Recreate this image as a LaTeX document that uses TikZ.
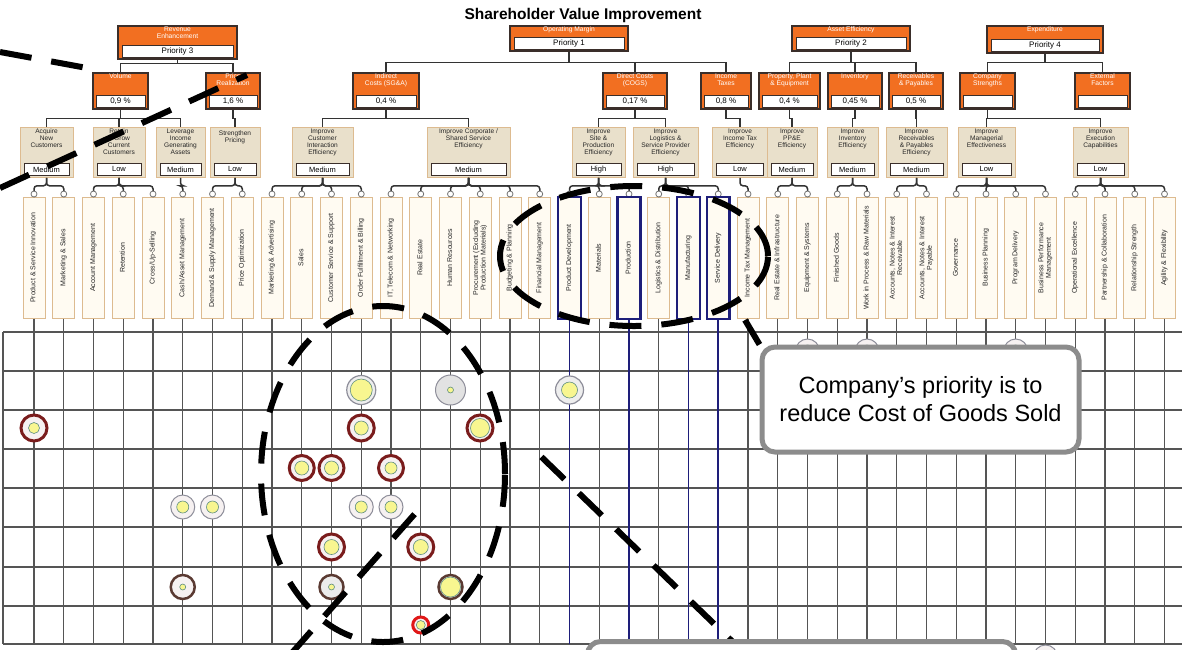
\documentclass[tikz,border=0pt]{standalone}
\usepackage{fontspec}
\setmainfont{Liberation Sans}
\usetikzlibrary{positioning}

\definecolor{drvorange}{HTML}{F26F21}
\definecolor{drvframe}{HTML}{3A2E2A}
\definecolor{drvtan}{HTML}{E9E0CB}
\definecolor{drvtanedge}{HTML}{DDBB90}
\definecolor{drvcream}{HTML}{FFFBF2}
\definecolor{drvnavy}{HTML}{1E1E7A}
\definecolor{gridgray}{HTML}{555555}
\definecolor{ringred}{HTML}{7A1C1C}
\definecolor{ringbrown}{HTML}{5A3A32}
\definecolor{ringgray}{HTML}{8E8E9A}
\definecolor{brightred}{HTML}{E01818}
\definecolor{dotyellow}{HTML}{F8F690}
\definecolor{dotedge}{HTML}{5E8E80}
\definecolor{lightfill}{HTML}{F6F1F1}
\definecolor{diskgray}{HTML}{E2E2E2}
\definecolor{calloutgray}{HTML}{8C8C8C}

\newcommand\drvfont[2]{\fontsize{#1}{#2}\selectfont}
\newcommand\leaftext[1]{\rotatebox{90}{\begin{tabular}{@{}c@{}}#1\end{tabular}}}
% marker: x, y, outer radius, ring colour, ring width, inside fill, yellow radius
\newcommand\drvdot[7]{%
  \filldraw[draw=#4, line width=#5, fill=#6] (#1,#2) circle (#3);
  \filldraw[draw=dotedge, line width=0.6pt, fill=dotyellow] (#1,#2) circle (#7);
}

\tikzset{
  hdr/.style={draw=drvframe, line width=1.6pt, fill=drvorange, inner sep=0pt, anchor=north},
  hdrtext/.style={anchor=north, text=white, align=center, inner sep=1.2pt, font=\drvfont{6.7}{7}},
  valbox/.style={draw=drvframe, line width=1pt, fill=white, inner sep=0pt, minimum height=12pt, font=\drvfont{8}{9}},
  tanbox/.style={draw=drvtanedge, line width=0.8pt, fill=drvtan, inner sep=0pt, anchor=north},
  tantext/.style={anchor=north, align=center, inner sep=1.5pt, text=black!85, font=\drvfont{6.6}{7}},
  ratebox/.style={draw=drvframe, line width=0.9pt, fill=white, inner sep=0pt, minimum height=12pt, font=\drvfont{7.5}{8}},
  leafbox/.style={draw=drvtanedge, line width=0.7pt, fill=drvcream, inner sep=0pt, minimum width=22pt, minimum height=121pt, anchor=north, text=black!85, font=\drvfont{7}{7.5}},
  conn/.style={draw=black!80, line width=1.5pt},
  leafconn/.style={conn, rounded corners=3pt},
  plug/.style={draw=black!55, fill=white, line width=0.8pt},
  gridline/.style={draw=gridgray, line width=1.4pt},
  navyline/.style={draw=drvnavy, line width=1.6pt},
  bigdash/.style={draw=black, line width=6pt, dash pattern=on 32pt off 20pt},
  callout/.style={draw=calloutgray, line width=5pt, fill=white, rounded corners=13pt}
}

\begin{document}
\begin{tikzpicture}[x=1pt, y=-1pt]
  \useasboundingbox (0,0) rectangle (1182,649);
  \clip (0,0) rectangle (1182,649);
  \fill[white] (0,0) rectangle (1182,649);

  % title
  \node[font=\bfseries\drvfont{15.5}{17}] (title) at (583,15) {Shareholder Value Improvement};

  % Revenue Enhancement
  \node[hdr, minimum width=119pt, minimum height=33pt, label={[hdrtext]north:{Revenue\\Enhancement}}] (rev) at (177.5,25) {};
  \node[valbox, minimum width=111pt, above=1.5pt of rev.south] (revp) {Priority 3};
  % Operating Margin
  \node[hdr, minimum width=118pt, minimum height=25pt, label={[hdrtext]north:{Operating Margin}}] (opm) at (569,25) {};
  \node[valbox, minimum width=110pt, above=1.5pt of opm.south] (opmp) {Priority 1};
  % Asset Efficiency
  \node[hdr, minimum width=118pt, minimum height=25pt, label={[hdrtext]north:{Asset Efficiency}}] (ase) at (851,25) {};
  \node[valbox, minimum width=110pt, above=1.5pt of ase.south] (asep) {Priority 2};
  % Expenditure
  \node[hdr, minimum width=116pt, minimum height=27pt, label={[hdrtext]north:{Expenditure}}] (exp) at (1045,25) {};
  \node[valbox, minimum width=108pt, above=1.5pt of exp.south] (expp) {Priority 4};

  % value drivers
  \node[hdr, minimum width=55pt, minimum height=36pt, label={[hdrtext]north:{Volume}}] (vol) at (120.5,72) {};
  \node[valbox, minimum width=49pt, above=1.5pt of vol.south] (volv) {0,9 \%};
  \node[hdr, minimum width=54pt, minimum height=36pt, label={[hdrtext]north:{Price\\Realization}}] (prc) at (233,72) {};
  \node[valbox, minimum width=48pt, above=1.5pt of prc.south] (prcv) {1,6 \%};
  \node[hdr, minimum width=66pt, minimum height=36pt, label={[hdrtext]north:{Indirect\\Costs (SG\&A)}}] (ind) at (386,72) {};
  \node[valbox, minimum width=60pt, above=1.5pt of ind.south] (indv) {0,4 \%};
  \node[hdr, minimum width=64pt, minimum height=36pt, label={[hdrtext]north:{Direct Costs\\(COGS)}}] (dir) at (635,72) {};
  \node[valbox, minimum width=58pt, above=1.5pt of dir.south] (dirv) {0,17 \%};
  \node[hdr, minimum width=50pt, minimum height=36pt, label={[hdrtext]north:{Income\\Taxes}}] (tax) at (726,72) {};
  \node[valbox, minimum width=44pt, above=1.5pt of tax.south] (taxv) {0,8 \%};
  \node[hdr, minimum width=61pt, minimum height=36pt, label={[hdrtext]north:{Property, Plant\\\& Equipment}}] (ppe) at (789.5,72) {};
  \node[valbox, minimum width=55pt, above=1.5pt of ppe.south] (ppev) {0,4 \%};
  \node[hdr, minimum width=54pt, minimum height=36pt, label={[hdrtext]north:{Inventory}}] (inv) at (855,72) {};
  \node[valbox, minimum width=48pt, above=1.5pt of inv.south] (invv) {0,45 \%};
  \node[hdr, minimum width=54pt, minimum height=36pt, label={[hdrtext]north:{Receivables\\\& Payables}}] (rcp) at (916,72) {};
  \node[valbox, minimum width=48pt, above=1.5pt of rcp.south] (rcpv) {0,5 \%};
  \node[hdr, minimum width=55pt, minimum height=36pt, label={[hdrtext]north:{Company\\Strengths}}] (cst) at (987.5,72) {};
  \node[valbox, minimum width=49pt, above=1.5pt of cst.south] (cstv) {};
  \node[hdr, minimum width=55pt, minimum height=36pt, label={[hdrtext]north:{External\\Factors}}] (ext) at (1102.5,72) {};
  \node[valbox, minimum width=49pt, above=1.5pt of ext.south] (extv) {};

  % improvement goals
  \node[tanbox, minimum width=53pt, minimum height=50pt, label={[tantext]north:{Acquire\\New\\Customers}}] (acq) at (46.5,127) {};
  \node[ratebox, minimum width=45pt, above=2pt of acq.south] (acqr) {Medium};
  \node[tanbox, minimum width=52pt, minimum height=50pt, label={[tantext]north:{Retain\\\& Grow\\Current\\Customers}}] (ret) at (119,127) {};
  \node[ratebox, minimum width=44pt, above=2pt of ret.south] (retr) {Low};
  \node[tanbox, minimum width=49pt, minimum height=50pt, label={[tantext]north:{Leverage\\Income\\Generating\\Assets}}] (lev) at (180.5,127) {};
  \node[ratebox, minimum width=41pt, above=2pt of lev.south] (levr) {Medium};
  \node[tanbox, minimum width=50pt, minimum height=50pt, label={[tantext]north:{\\Strengthen\\Pricing}}] (str) at (235,127) {};
  \node[ratebox, minimum width=42pt, above=2pt of str.south] (strr) {Low};
  \node[tanbox, minimum width=61pt, minimum height=50pt, label={[tantext]north:{Improve\\Customer\\Interaction\\Efficiency}}] (cie) at (322.5,127) {};
  \node[ratebox, minimum width=53pt, above=2pt of cie.south] (cier) {Medium};
  \node[tanbox, minimum width=83pt, minimum height=50pt, label={[tantext]north:{Improve Corporate /\\Shared Service\\Efficiency}}] (csse) at (468.5,127) {};
  \node[ratebox, minimum width=75pt, above=2pt of csse.south] (csser) {Medium};
  \node[tanbox, minimum width=53pt, minimum height=50pt, label={[tantext]north:{Improve\\Site \&\\Production\\Efficiency}}] (spe) at (598.5,127) {};
  \node[ratebox, minimum width=45pt, above=2pt of spe.south] (sper) {High};
  \node[tanbox, minimum width=65pt, minimum height=50pt, label={[tantext]north:{Improve\\Logistics \&\\Service Provider\\Efficiency}}] (lspe) at (665.5,127) {};
  \node[ratebox, minimum width=57pt, above=2pt of lspe.south] (lsper) {High};
  \node[tanbox, minimum width=55pt, minimum height=50pt, label={[tantext]north:{Improve\\Income Tax\\Efficiency}}] (ite) at (740,127) {};
  \node[ratebox, minimum width=47pt, above=2pt of ite.south] (iter) {Low};
  \node[tanbox, minimum width=50pt, minimum height=50pt, label={[tantext]north:{Improve\\PP\&E\\Efficiency}}] (ppee) at (792,127) {};
  \node[ratebox, minimum width=42pt, above=2pt of ppee.south] (ppeer) {Medium};
  \node[tanbox, minimum width=51pt, minimum height=50pt, label={[tantext]north:{Improve\\Inventory\\Efficiency}}] (inve) at (852.5,127) {};
  \node[ratebox, minimum width=43pt, above=2pt of inve.south] (inver) {Medium};
  \node[tanbox, minimum width=61pt, minimum height=50pt, label={[tantext]north:{Improve\\Receivables\\\& Payables\\Efficiency}}] (rpe) at (916.5,127) {};
  \node[ratebox, minimum width=53pt, above=2pt of rpe.south] (rper) {Medium};
  \node[tanbox, minimum width=57pt, minimum height=50pt, label={[tantext]north:{Improve\\Managerial\\Effectiveness}}] (mge) at (986.5,127) {};
  \node[ratebox, minimum width=49pt, above=2pt of mge.south] (mger) {Low};
  \node[tanbox, minimum width=55pt, minimum height=50pt, label={[tantext]north:{Improve\\Execution\\Capabilities}}] (exe) at (1100.5,127) {};
  \node[ratebox, minimum width=47pt, above=2pt of exe.south] (exer) {Low};

  % business components
  \foreach \k/\txt in {0/{Product \& Service Innovation}, 1/{Marketing \& Sales},
      2/{Account Management}, 3/{Retention}, 4/{Cross/Up-Selling},
      5/{Cash/Asset Management}, 6/{Demand \& Supply Management}, 7/{Price Optimization},
      8/{Marketing \& Advertising}, 9/{Sales}, 10/{Customer Service \& Support},
      11/{Order Fulfillment \& Billing}, 12/{IT, Telecom \& Networking}, 13/{Real Estate},
      14/{Human Resources}, 15/{Procurement (Excluding\\Production Materials)},
      16/{Budgeting \& Planning}, 17/{Financial Management}, 18/{Product Development},
      19/{Materials}, 20/{Production}, 21/{Logistics \& Distribution}, 22/{Manufacturing},
      23/{Service Delivery}, 24/{Income Tax Management}, 25/{Real Estate \& Infrastructure},
      26/{Equipment \& Systems}, 27/{Finished Goods}, 28/{Work in Process \& Raw Materials},
      29/{Accounts, Notes \& Interest\\Receivable}, 30/{Accounts, Notes \& Interest\\Payable},
      31/{Governance}, 32/{Business Planning}, 33/{Program Delivery},
      34/{Business Performance\\Management}, 35/{Operational Excellence},
      36/{Partnership \& Collaboration}, 37/{Relationship Strength}, 38/{Agility \& Flexibility}}
    \node[leafbox] (c\k) at ({34+29.75*\k},197) {\leaftext{\txt}};

  % tree connectors
  \foreach \c in {vol,prc} \draw[conn] (rev.south) -- ++(0,4) -| (\c.north);
  \foreach \c in {ind,dir,tax} \draw[conn] (opm.south) -- ++(0,11) -| (\c.north);
  \foreach \c in {ppe,inv,rcp} \draw[conn] (ase.south) -- ++(0,11) -| (\c.north);
  \foreach \c in {cst,ext} \draw[conn] (exp.south) -- ++(0,9) -| (\c.north);
  \foreach \p/\c in {vol/acq, vol/ret, vol/lev, prc/str, ind/cie, ind/csse, dir/spe, dir/lspe,
      tax/ite, ppe/ppee, inv/inve, rcp/rpe, cst/mge, cst/exe}
    \draw[conn] (\p.south) -- ++(0,9) -| (\c.north);
  \foreach \p/\kids in {acq/{0,1}, ret/{2,3,4}, lev/{5}, str/{6,7}, cie/{8,9,10,11},
      csse/{12,13,14,15,16,17}, spe/{18,19,20}, lspe/{21,22,23}, ite/{24}, ppee/{25,26},
      inve/{27,28}, rpe/{29,30}, mge/{31,32,33,34}, exe/{35,36,37,38}}
    \foreach \k in \kids \draw[leafconn] (\p.south) -- ++(0,8) -| (c\k.north);
  \foreach \k in {0,...,38} \draw[plug] ([yshift=3pt]c\k.north) circle (3pt);

  % grid
  \foreach \gy in {332,371,410,449,488,527,567,606,644}
    \draw[gridline] (3,\gy) -- (1182,\gy);
  \draw[gridline] (3,332) -- (3,644);
  \foreach \k in {0,...,38} \draw[gridline] (c\k.south) -- (c\k.south |- 0,644);
  % cost of goods sold components
  \foreach \k in {18,20,22,23} {
    \draw[navyline] (c\k.south) -- (c\k.south |- 0,644);
    \draw[navyline, line width=2.4pt] (c\k.south west) rectangle (c\k.north east);
  }

  % heat markers
  \drvdot{807.5}{351}{12pt}{ringgray}{1pt}{lightfill}{6pt}
  \drvdot{867}{351}{12pt}{ringgray}{1pt}{lightfill}{6pt}
  \drvdot{1015.75}{351}{12pt}{ringgray}{1pt}{lightfill}{6pt}
  \drvdot{361.25}{390}{14.5pt}{ringgray}{1.2pt}{diskgray!60}{11pt}
  \drvdot{450.5}{390}{15pt}{ringgray}{1pt}{diskgray}{3pt}
  \drvdot{569.5}{390}{14pt}{ringgray}{1.2pt}{diskgray!60}{8pt}
  \drvdot{34}{428}{13pt}{ringred}{3pt}{lightfill}{5.5pt}
  \drvdot{361.25}{428}{13pt}{ringred}{3pt}{lightfill}{7pt}
  \drvdot{480}{428}{13pt}{ringred}{3pt}{lightfill}{9.5pt}
  \drvdot{301.75}{468}{12.5pt}{ringred}{3pt}{lightfill}{7pt}
  \drvdot{331.5}{468}{12.5pt}{ringred}{3pt}{lightfill}{7pt}
  \drvdot{391}{468}{12.5pt}{ringred}{3pt}{lightfill}{6pt}
  \drvdot{182.75}{507}{12pt}{ringgray}{1pt}{lightfill}{6pt}
  \drvdot{212.5}{507}{12pt}{ringgray}{1pt}{lightfill}{6pt}
  \drvdot{361.25}{507}{12pt}{ringgray}{1pt}{lightfill}{6pt}
  \drvdot{391}{507}{12pt}{ringgray}{1pt}{lightfill}{6pt}
  \drvdot{331.5}{547}{13pt}{ringred}{3pt}{lightfill}{7.5pt}
  \drvdot{420.75}{547}{13pt}{ringred}{3pt}{lightfill}{7.5pt}
  \drvdot{182.75}{587}{12pt}{ringbrown}{2.5pt}{lightfill}{3pt}
  \drvdot{331.5}{587}{12pt}{ringbrown}{2.5pt}{diskgray!70}{3pt}
  \drvdot{450.5}{587}{12pt}{ringbrown}{2.5pt}{lightfill}{10pt}
  \drvdot{420.75}{625}{8pt}{brightred}{3pt}{lightfill}{4.5pt}
  \drvdot{1045.5}{657}{12pt}{ringgray}{1pt}{lightfill}{6pt}

  % highlight marks
  \coordinate (tailA) at (0,52);
  \coordinate (tailB) at (0,188);
  \coordinate (tailC) at (527,443);
  \coordinate (tailD) at (290,655);
  \coordinate (tailE) at (745,320);
  \draw[bigdash] (tailA) -- (87,68);
  \draw[bigdash] (tailB) -- (247,75);
  \draw[bigdash] (383,474) ellipse [x radius=122pt, y radius=168pt];
  \draw[bigdash] (634,256) ellipse [x radius=134pt, y radius=70pt];
  \draw[bigdash, dash phase=32pt] (tailC) -- (737,646);
  \draw[bigdash] (tailD) -- (420,508);

  % callouts
  \node[callout, minimum width=317pt, minimum height=105pt, align=center, font=\drvfont{23.5}{28}] (cogs) at (920.5,399.5) {Company’s priority is to\\reduce Cost of Goods Sold};
  \draw[bigdash] (tailE) -- (cogs.north west);
  \node[callout, minimum width=428pt, minimum height=60pt, anchor=north west] (note) at (585,639) {};
\end{tikzpicture}
\end{document}
